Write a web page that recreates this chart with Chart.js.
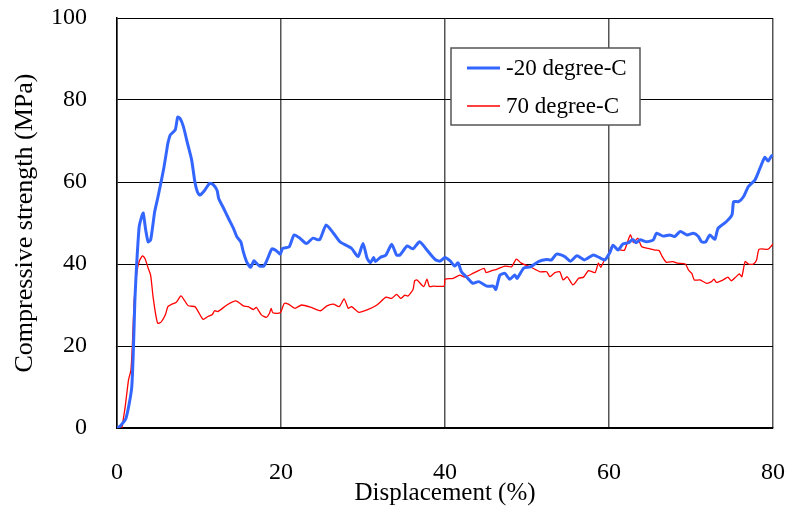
<!DOCTYPE html>
<html>
<head>
<meta charset="utf-8">
<script src="https://cdn.jsdelivr.net/npm/chart.js@4"></script>
<style>
  html, body { margin: 0; padding: 0; background: #fff; }
  #wrap { width: 787px; height: 510px; }
</style>
</head>
<body>
<div id="wrap"><canvas id="chart" width="787" height="510"></canvas></div>
<script>
const seriesLabels = ['-20 degree-C', '70 degree-C'];
const seriesColors = ['#3366ff', '#ff0000'];

// -20 degree-C
const coldX = [0, 0.4, 1.1, 1.8, 2.2, 2.4, 2.7, 3.0, 3.2, 3.5, 3.8, 4.1, 4.4, 4.6, 5.0, 5.7, 6.1, 6.2, 6.5, 7.1,
  7.4, 7.7, 8.1, 8.6, 9.1, 9.5, 9.8, 10.1, 10.7, 11.3, 11.7, 12.2, 12.4, 13.0, 13.6, 14.2, 14.6, 15.1, 15.4, 15.8,
  16.3, 16.7, 17.0, 17.4, 17.9, 18.3, 18.9, 19.4, 19.9, 20.2, 21.0, 21.6, 22.3, 23.1, 23.9, 24.7, 25.5, 26.4, 27.2, 28.6,
  29.4, 30.0, 30.5, 30.9, 31.3, 31.5, 32.1, 32.8, 33.5, 34.1, 34.5, 35.4, 36.1, 36.9, 37.8, 38.8, 39.4, 40.0, 40.6, 41.2,
  41.6, 42.0, 42.6, 43.4, 44.1, 45.1, 45.9, 46.2, 46.7, 47.3, 47.9, 48.5, 48.8, 49.6, 50.4, 51.4, 52.4, 53.0, 53.6, 54.6,
  55.3, 56.1, 57.0, 58.1, 58.8, 59.5, 60.1, 60.5, 61.1, 61.7, 62.4, 62.9, 63.3, 63.8, 64.6, 65.4, 65.8, 66.6, 67.4, 68.0,
  68.7, 69.5, 70.3, 70.9, 71.3, 71.8, 72.3, 72.9, 73.3, 74.3, 75.0, 75.2, 75.8, 76.4, 77.0, 77.8, 78.4, 79.0, 79.4, 79.8, 80];
const coldY = [0, 0.5, 2.4, 10, 32, 40, 49, 51.5, 52.4, 48.3, 45.4, 45.9, 49.9, 52.8, 56.4, 63.3, 68.2, 69.4, 71.5, 72.7,
  75.8, 75.5, 73.5, 69.4, 65.4, 60, 57.6, 56.8, 58, 59.7, 59.4, 58, 56, 53.6, 51.1, 48.7, 46.7, 45.4, 43, 40.6,
  39.2, 40.8, 40.2, 39.5, 39.5, 41, 43.7, 43.3, 42.4, 43.8, 44.2, 47.1, 46.3, 45, 46.3, 45.9, 49.5, 47.5, 45.4, 43.8,
  41.8, 45, 41.4, 40.3, 41.6, 40.6, 41.6, 42.2, 44.8, 42.2, 42.2, 44.4, 43.7, 45.4, 43.4, 41.1, 40.7, 41.6, 40.8, 39.5,
  40.3, 38.1, 36.9, 35.3, 35.7, 34.6, 34.6, 33.8, 37.3, 37.7, 36.3, 37.3, 36.5, 39, 39.3, 40.6, 41.1, 41, 42.4, 41.8,
  40.7, 42, 41, 42.2, 41.6, 41, 42.8, 44.6, 43.4, 44.9, 45.2, 46, 45.2, 45.9, 45.4, 45.9, 47.5, 46.8, 47.1, 46.7,
  47.9, 47.1, 47.5, 46.7, 45.4, 45.4, 47.1, 46, 48.7, 50.3, 52, 55.2, 55.2, 56.4, 58.9, 60.5, 63.3, 66, 65.1, 66.3, 66.6];

// 70 degree-C
const hotX = [0.6, 1.0, 1.4, 1.7, 1.9, 2.1, 2.4, 2.7, 3.1, 3.4, 3.8, 4.1, 4.4, 4.8, 5.0, 5.4, 5.9, 6.2, 6.7, 7.2,
  7.8, 8.2, 8.7, 9.5, 9.9, 10.5, 11.1, 11.6, 11.9, 12.3, 13.4, 14.5, 15.4, 16.0, 16.6, 17.0, 17.6, 18.2, 18.6, 18.8,
  19.0, 19.9, 20.4, 20.9, 21.7, 22.5, 23.7, 24.8, 25.6, 26.4, 27.1, 27.7, 28.2, 28.6, 29.5, 30.5, 31.7, 32.8, 33.5, 34.1,
  34.6, 35.1, 35.5, 36.1, 36.3, 36.6, 37.4, 37.8, 38.1, 38.6, 39.9, 40.0, 41.0, 41.8, 42.4, 43.4, 44.2, 44.8, 45.0, 45.9,
  46.3, 47.3, 48.1, 48.7, 49.3, 50.4, 51.0, 51.6, 52.4, 52.8, 53.4, 54.0, 54.4, 54.9, 55.6, 56.3, 56.9, 57.5, 58.3, 58.7,
  59.0, 59.4, 59.9, 60.4, 60.9, 61.5, 61.9, 62.6, 63.0, 63.5, 64.0, 64.8, 65.6, 66.1, 66.5, 67.0, 67.8, 68.3, 69.3, 69.7,
  70.1, 70.4, 71.1, 71.9, 72.5, 72.8, 73.1, 73.9, 74.5, 74.9, 75.5, 75.9, 76.2, 76.6, 77.0, 77.6, 78.0, 78.3, 79.4, 79.8, 80];
const hotY = [0, 5.2, 11.7, 14.1, 21.5, 31.2, 37.7, 40.6, 42, 41.4, 39, 37.3, 32, 26.8, 25.5, 25.9, 27.6, 29.6, 30.2, 30.6,
  32.2, 31.2, 29.8, 29.6, 28.4, 26.5, 27.2, 27.6, 28.6, 28.4, 30, 31, 29.8, 29.6, 28.9, 29.4, 27.6, 27, 28, 29.2,
  28.1, 28.1, 30.4, 30.2, 29.2, 30, 29.4, 28.6, 29.8, 30.2, 29.6, 31.5, 29.2, 29.6, 28.2, 28.8, 30, 31.9, 31.6, 32.6,
  31.6, 32.4, 32.2, 33.8, 35.9, 36.1, 34.5, 36.3, 34.5, 34.6, 34.6, 36.3, 36.5, 37.3, 36.8, 37.7, 38.5, 38.9, 37.9, 38.5,
  38.7, 39.5, 39.3, 41.2, 40.2, 39.3, 38.7, 38.1, 38.1, 36.9, 37.9, 38.1, 36.1, 36.9, 34.9, 36.5, 36.8, 38.4, 37.9, 40.2,
  39.2, 40.8, 42.2, 44.6, 43.8, 43.4, 43.4, 47.1, 45.2, 46.3, 44.2, 43.8, 43.4, 43.3, 41.8, 40.4, 40.6, 40.2, 40, 38.5,
  37.7, 36.1, 36.1, 35.3, 35.7, 36.3, 35.5, 36.1, 36.8, 35.9, 36.9, 37.6, 36.9, 40.6, 40, 40, 41, 43.6, 43.6, 44.4, 44.9];

const FONT = '"Liberation Serif", "Times New Roman", serif';

function toPoints(xs, ys) {
  return xs.map((x, i) => ({ x, y: ys[i] }));
}

function noEdgePadding(s) {
  s.paddingTop = 0;
  s.paddingBottom = 0;
  s.paddingLeft = 0;
  s.paddingRight = 0;
}

// legend box drawn inside the plot, upper right
const boxLegend = {
  id: 'boxLegend',
  afterDraw(c) {
    const ctx = c.ctx;
    const x0 = 451, y0 = 48, w = 189, h = 77;
    ctx.save();
    ctx.fillStyle = '#fff';
    ctx.fillRect(x0, y0, w, h);
    ctx.strokeStyle = '#555';
    ctx.lineWidth = 1.5;
    ctx.strokeRect(x0, y0, w, h);
    ctx.font = '23px ' + FONT;
    ctx.textBaseline = 'middle';
    c.data.datasets.forEach((ds, i) => {
      const y = y0 + 20 + i * 38;
      ctx.strokeStyle = ds.borderColor;
      ctx.lineWidth = ds.borderWidth;
      ctx.beginPath();
      ctx.moveTo(x0 + 16, y);
      ctx.lineTo(x0 + 49, y);
      ctx.stroke();
      ctx.fillStyle = '#000';
      ctx.fillText(ds.label, x0 + 55, y + 1);
    });
    ctx.restore();
  }
};

const chart = new Chart(document.getElementById('chart'), {
  type: 'scatter',
  data: {
    datasets: [
      { label: seriesLabels[0], data: toPoints(coldX, coldY), borderColor: seriesColors[0], borderWidth: 3,
        showLine: true, pointRadius: 0, tension: 0.2 },
      { label: seriesLabels[1], data: toPoints(hotX, hotY), borderColor: seriesColors[1], borderWidth: 1.3,
        showLine: true, pointRadius: 0, tension: 0.2 }
    ]
  },
  options: {
    responsive: false,
    animation: false,
    layout: { padding: { left: 0, right: 14, top: 18, bottom: 0 } },
    plugins: { legend: { display: false }, tooltip: { enabled: false } },
    scales: {
      x: {
        type: 'linear', min: 0, max: 80,
        ticks: { stepSize: 20, color: '#000', font: { family: FONT, size: 24 }, padding: 30 },
        grid: { color: '#555', lineWidth: 1.5, drawTicks: false },
        border: { color: '#000', width: 1.5 },
        title: { display: true, text: 'Displacement (%)', color: '#000',
          font: { family: FONT, size: 25 }, padding: { top: 0, bottom: 2 } },
        afterFit(s) { s.height = 82; noEdgePadding(s); }
      },
      y: {
        min: 0, max: 100,
        ticks: { stepSize: 20, color: '#000', font: { family: FONT, size: 24 }, padding: 30 },
        grid: { color: '#000', lineWidth: 1, drawTicks: false },
        border: { color: '#000', width: 1.5 },
        title: { display: true, text: 'Compressive strength (MPa)', color: '#000',
          font: { family: FONT, size: 26 }, padding: { top: 10, bottom: 0 } },
        afterFit(s) { s.width = 117; noEdgePadding(s); }
      }
    }
  },
  plugins: [boxLegend]
});
</script>
</body>
</html>
